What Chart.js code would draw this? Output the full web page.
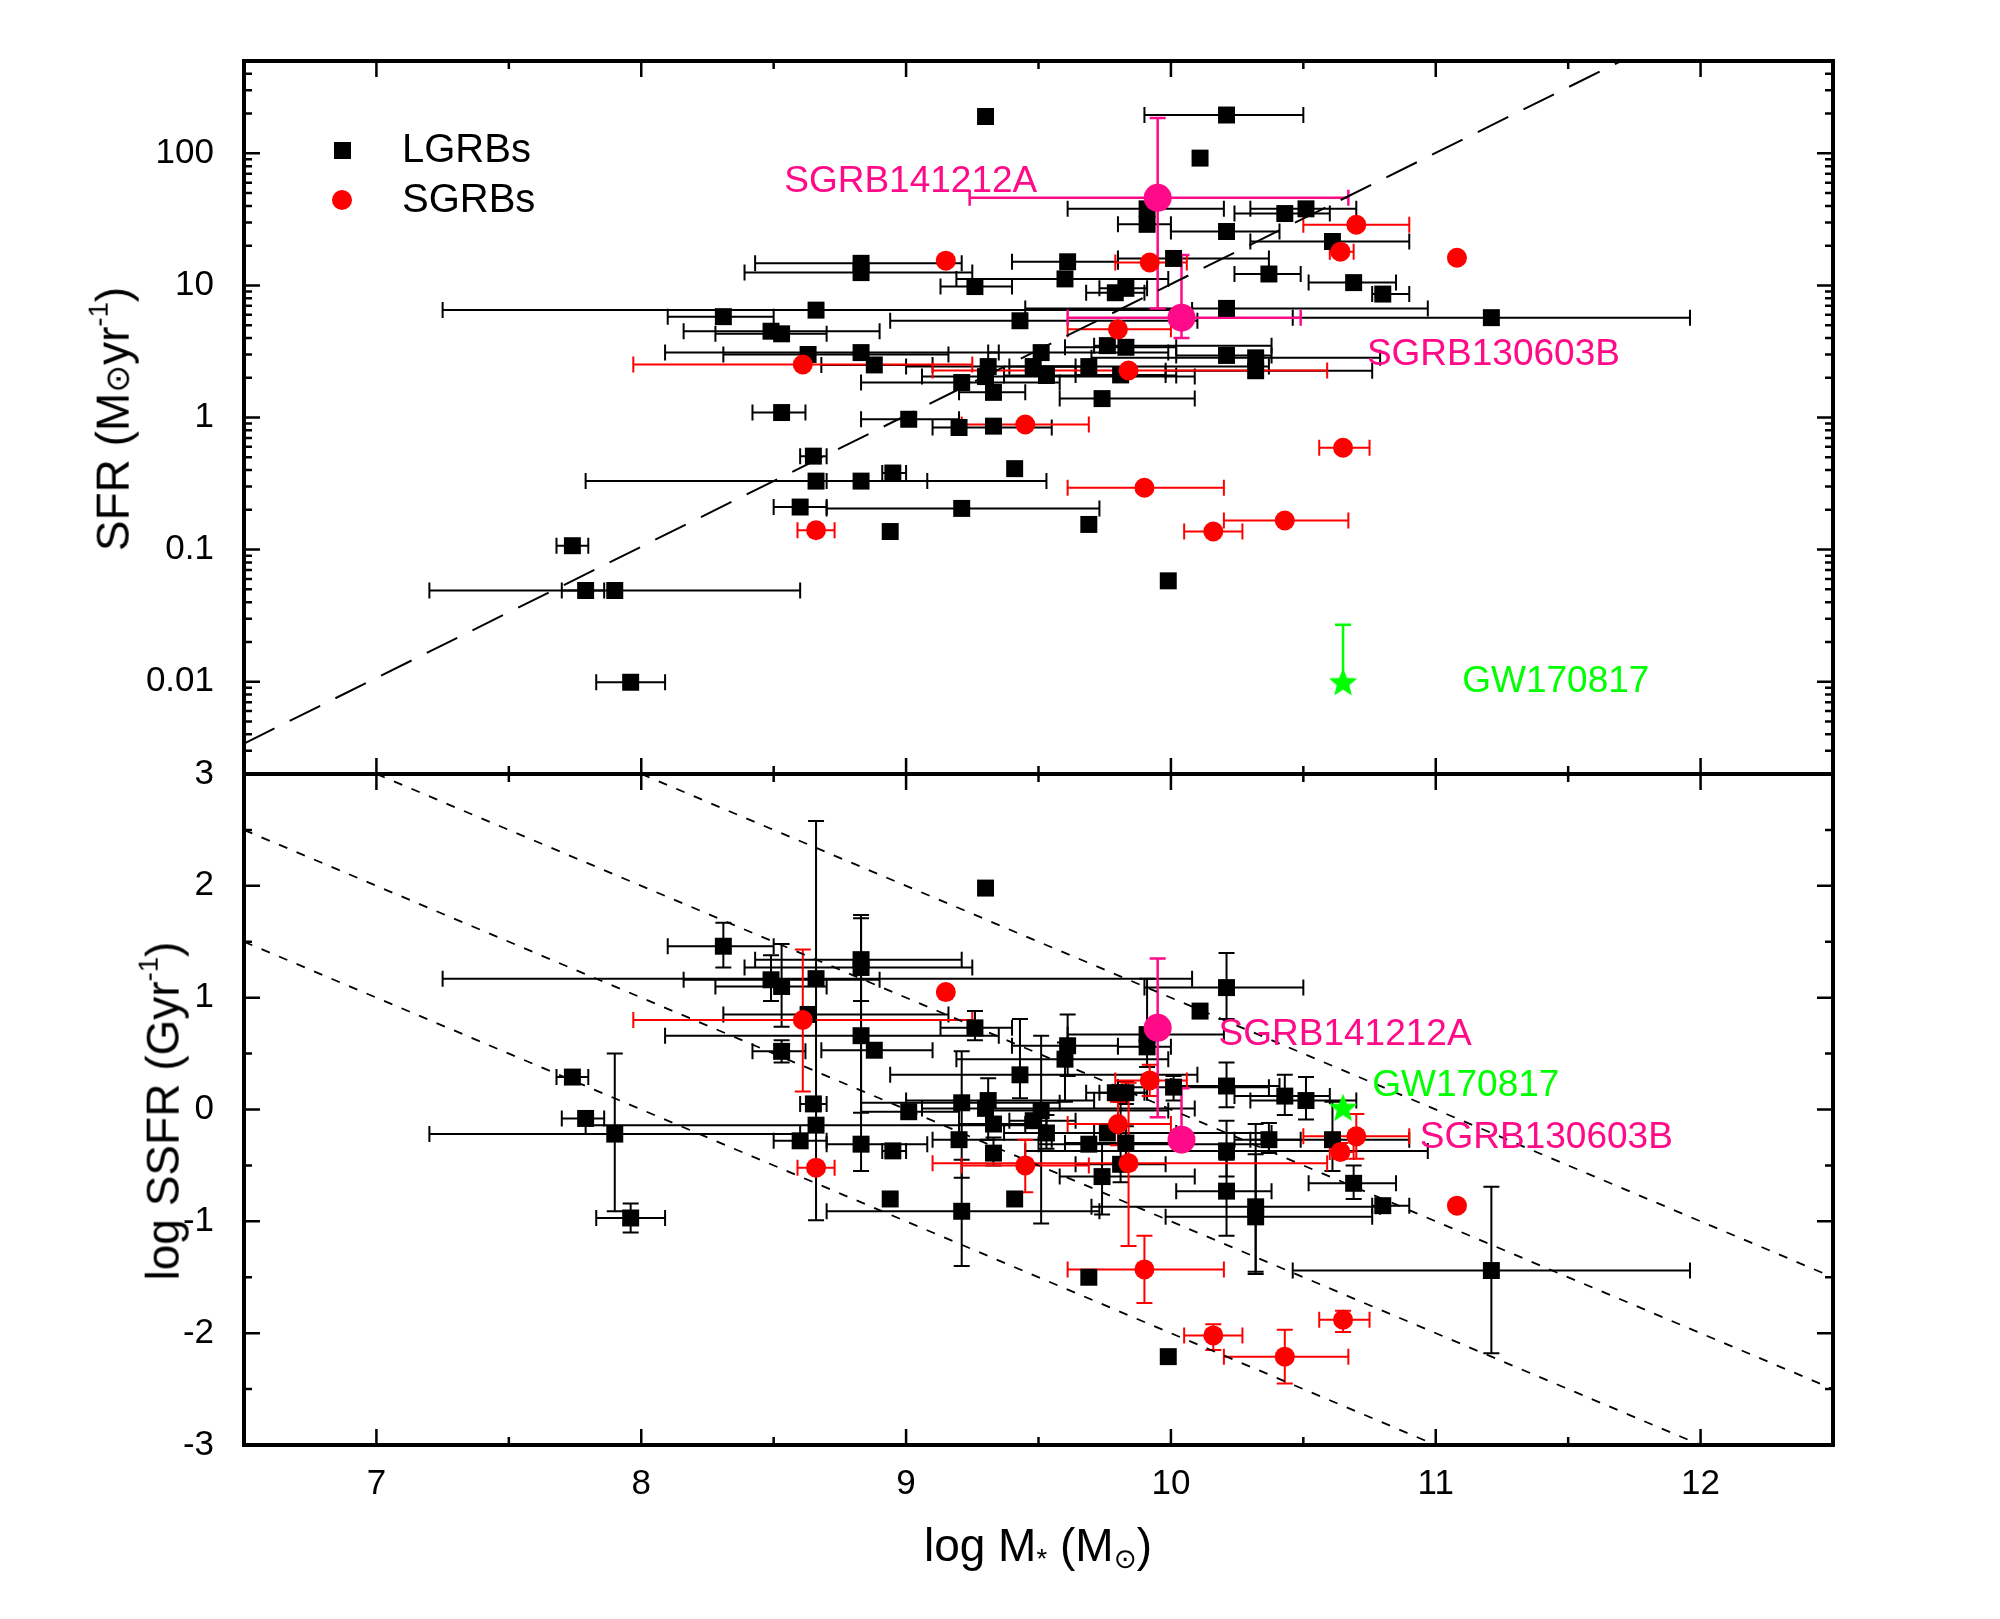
<!DOCTYPE html>
<html>
<head>
<meta charset="utf-8">
<script src="https://cdn.jsdelivr.net/npm/chart.js@4.4.1/dist/chart.umd.min.js"></script>
<style>
  html, body { margin: 0; padding: 0; background: #fff; }
  #wrap { position: relative; width: 2000px; height: 1619px; background: #fff; overflow: hidden;
          font-family: "Liberation Sans", "DejaVu Sans", Arial, sans-serif; }
  canvas { position: absolute; left: 0; }
  #topChart { top: 0; }
  #botChart { top: 700px; }
  .title { position: absolute; font-size: 46px; color: #000; white-space: nowrap; line-height: 1; }
  .ytitle { transform: translate(-50%, -50%) rotate(-90deg); }
  .xtitle { transform: translate(-50%, -50%); }
  .title sup { font-size: 0.6em; vertical-align: 0.75em; }
  .title sub { font-size: 0.6em; vertical-align: -0.25em; }
  .sun { font-family: "DejaVu Sans", sans-serif; font-size: 0.72em; }
</style>
</head>
<body>
<div id="wrap">
  <canvas id="topChart" width="2000" height="820"></canvas>
  <canvas id="botChart" width="2000" height="919"></canvas>
  <div class="title ytitle" style="left:110px; top:419px;">SFR (M<span class="sun">⊙</span>yr<sup>-1</sup>)</div>
  <div class="title ytitle" style="left:160px; top:1111px;">log SSFR (Gyr<sup>-1</sup>)</div>
  <div class="title xtitle" style="left:1038px; top:1547px;">log M<sub>*</sub> (M<sub class="sun">⊙</sub>)</div>
</div>
<script>
// ---------- data ----------
// long GRB hosts
const lgrbLogM = [9.30, 10.21, 10.11, 9.91, 9.91, 10.43, 10.51, 10.21, 10.61, 8.83, 8.83, 9.61, 10.01, 9.60, 9.26, 9.79,
  9.83, 10.37, 10.69, 10.80, 8.31, 8.66, 10.21, 9.43, 11.21, 8.49, 8.53, 8.63, 8.83, 8.88, 9.21, 9.31, 9.30, 9.33, 9.51,
  9.48, 9.53, 9.69, 9.76, 9.83, 9.81, 9.74, 10.21, 10.32, 10.32, 9.01, 9.20, 9.33, 8.53, 8.65, 8.66, 8.83, 8.95, 9.41,
  8.60, 9.21, 8.94, 9.69, 9.99, 7.74, 7.79, 7.90, 7.96];
const lgrbLogMLo = [null, 9.90, null, 9.61, 9.80, 10.24, 10.30, 10.00, 10.30, 8.43, 8.39, 9.40, 9.80, 9.19, 9.13, 9.68,
  9.73, 10.24, 10.52, 10.76, 8.10, 7.25, 9.45, 8.94, 10.46, 8.16, 8.28, 8.31, 8.09, 8.68, 8.83, 9.00, 9.06, 9.20, 9.31,
  9.39, 9.37, 9.50, 9.71, 9.60, 9.64, 9.58, 10.02, 9.70, 9.98, 8.83, 9.10, null, 8.42, 8.60, 7.79, 8.70, 8.91, null,
  8.50, 8.70, null, null, null, 7.68, 7.70, 7.20, 7.83];
const lgrbLogMHi = [null, 10.50, null, 10.20, 10.00, 10.60, 10.70, 10.41, 10.90, 9.21, 9.25, 9.80, 10.37, 9.99, 9.40, 9.90,
  9.91, 10.49, 10.85, 10.90, 8.50, 10.08, 10.97, 10.10, 11.96, 8.90, 8.70, 9.16, 9.35, 9.10, 9.58, 9.71, 10.09, 9.45, 9.99,
  9.64, 10.02, 10.37, 10.38, 10.02, 9.98, 10.09, 10.38, 10.79, 10.76, 9.20, 9.55, null, 8.62, 8.70, 9.53, 9.08, 9.00, null,
  8.70, 9.73, null, null, null, 7.80, 7.86, 8.60, 8.09];
const lgrbSFR = [190, 195, 92, 38, 29, 35, 38, 25.6, 21.5, 14.7, 12.5, 15.1, 16, 11.2, 9.8, 8.8, 9.5, 12.2, 10.5, 8.6,
  5.8, 6.5, 6.7, 5.4, 5.7, 4.5, 4.3, 3.0, 3.1, 2.5, 1.84, 2.43, 2.04, 1.55, 3.1, 2.43, 2.08, 2.43, 3.5, 3.4, 2.1, 1.39,
  2.95, 2.83, 2.26, 0.97, 0.84, 0.86, 1.09, 0.51, 0.33, 0.33, 0.38, 0.41, 0.21, 0.205, 0.137, 0.155, 0.058, 0.107,
  0.049, 0.049, 0.0099];
const lgrbSSFR = [1.98, 1.09, 0.88, 0.67, 0.56, 0.12, 0.08, 0.21, -0.27, 1.34, 1.27, 0.57, 0.20, 0.45, 0.73, 0.15, 0.15,
  -0.27, -0.66, -0.86, 1.46, 1.17, -0.37, 0.31, -1.44, 1.16, 1.10, 0.85, 0.66, 0.53, 0.06, 0.08, 0.01, -0.13, -0.01,
  -0.10, -0.21, -0.31, -0.21, -0.30, -0.49, -0.60, -0.73, -0.87, -0.96, -0.02, -0.27, -0.39, 0.52, 0.05, -0.14, -0.31,
  -0.37, -0.80, -0.28, -0.91, -0.80, -1.50, -2.21, 0.29, -0.08, -0.22, -0.97];
const lgrbSSFRLo = [null, 0.81, null, 0.38, null, -0.05, -0.09, 0.02, -0.55, 0.97, -0.55, 0.30, 0.08, 0.07, 0.62, null,
  0.05, -0.39, -0.80, null, 1.27, -0.99, -0.60, 0.10, -2.18, 0.97, 0.74, null, -0.03, null, -0.61, -0.27, null, null,
  -1.02, null, -0.35, null, null, -0.45, -0.65, -0.94, -1.13, -1.47, -1.45, null, null, -0.50, 0.42, null, null, null,
  -0.42, null, null, -1.40, null, null, null, null, null, -0.91, -1.10];
const lgrbSSFRHi = [null, 1.40, null, 1.17, null, 0.31, 0.29, 0.42, 0.07, 1.74, 1.71, 0.85, 0.30, 0.60, 0.88, null,
  0.25, -0.12, -0.50, null, 1.67, 2.58, -0.10, 0.81, -0.69, 1.38, 1.48, null, 0.97, null, 0.52, 0.28, null, null,
  0.66, null, -0.05, null, null, -0.15, 0.07, -0.30, -0.45, -0.13, -0.40, null, null, -0.25, 0.62, null, null, null,
  -0.32, null, null, -0.45, null, null, null, null, null, 0.50, -0.84];

// short GRB hosts
const sgrbLogM = [9.15, 9.92, 8.61, 9.84, 9.80, 9.45, 9.90, 8.66, 10.70, 10.64, 11.08, 10.65, 10.43, 10.16];
const sgrbLogMLo = [null, 9.79, 7.97, 9.10, 9.61, 9.21, 9.61, 8.59, 10.50, 10.60, null, 10.56, 10.20, 10.05];
const sgrbLogMHi = [null, 10.06, 9.25, 10.59, 10.00, 9.69, 10.20, 8.73, 10.90, 10.69, null, 10.75, 10.67, 10.27];
const sgrbSFR = [15.4, 14.9, 2.52, 2.27, 4.65, 0.885, 0.294, 0.14, 28.8, 18, 16.2, 0.59, 0.166, 0.137];
const sgrbSSFR = [1.05, 0.26, 0.80, -0.48, -0.13, -0.50, -1.43, -0.52, -0.24, -0.38, -0.86, -1.88, -2.21, -2.02];
const sgrbSSFRLo = [null, 0.12, 0.16, -1.22, -0.32, -0.74, -1.73, null, -0.44, -0.44, null, -1.99, -2.45, -2.15];
const sgrbSSFRHi = [null, 0.40, 1.43, 0.24, 0.07, -0.27, -1.13, null, -0.04, -0.30, null, -1.80, -1.97, -1.92];

// the two labelled short bursts
const namedNames = ['SGRB141212A', 'SGRB130603B'];
const namedLogM = [9.95, 10.04];
const namedLogMLo = [9.24, 9.61];
const namedLogMHi = [10.67, 10.49];
const namedSFR = [46, 5.7];
const namedSFRLo = [6.7, 4.0];
const namedSFRHi = [185, 17];
const namedSSFR = [0.73, -0.27];
const namedSSFRLo = [-0.07, -0.35];
const namedSSFRHi = [1.35, 0.19];

// GW170817 host
const gwLogM = [10.65];
const gwSFR = [0.01];
const gwSFRHi = [0.027];
const gwSSFR = [0.02];

// reference lines
const sfrLineLogM = [6.5, 11.7];
const sfrLineSFR = [0.0034, 500];
const ssfrLinesLogM = [[8.0, 12.5], [7.0, 12.5], [6.5, 12.0], [6.5, 11.0]];
const ssfrLinesSSFR = [[3, -1.5], [3, -2.5], [2.5, -3], [1.5, -3]];

// ticks
const xTicks = [7, 8, 9, 10, 11, 12];
const xMinorTicks = [7.5, 8.5, 9.5, 10.5, 11.5];
const sfrTicks = [0.01, 0.1, 1, 10, 100];
const ssfrTicks = [-3, -2, -1, 0, 1, 2, 3];
const ssfrMinorTicks = [-2.5, -1.5, -0.5, 0.5, 1.5, 2.5];

// ---------- styling ----------
const FONT = '"Liberation Sans", "DejaVu Sans", Arial, sans-serif';
const RED = '#ff0000';
const PINK = '#ff0a88';
const GREEN = '#00ff00';
const CAP = 8;

const pts = (xs, ys) => xs.map((x, i) => ({ x: x, y: ys[i] }));
const nulls = n => new Array(n).fill(null);

function starImage(size, color) {
  const c = document.createElement('canvas');
  c.width = size; c.height = size;
  const g = c.getContext('2d');
  g.fillStyle = color;
  g.beginPath();
  for (let i = 0; i < 10; i++) {
    const r = i % 2 ? size * 0.22 : size * 0.5;
    const a = -Math.PI / 2 + i * Math.PI / 5;
    g.lineTo(size / 2 + r * Math.cos(a), size / 2 + 1.5 + r * Math.sin(a));
  }
  g.closePath();
  g.fill();
  return c;
}
const star = starImage(30, GREEN);

// error bars, drawn under the markers
function errorBars(groups) {
  return {
    id: 'errorBars',
    beforeDatasetsDraw(chart) {
      const { ctx, chartArea: a } = chart;
      const xs = chart.scales.x, ys = chart.scales.y;
      ctx.save();
      ctx.beginPath();
      ctx.rect(a.left, a.top, a.right - a.left, a.bottom - a.top);
      ctx.clip();
      groups.forEach(g => {
        ctx.strokeStyle = g.color;
        ctx.lineWidth = g.width;
        g.x.forEach((xv, i) => {
          const px = xs.getPixelForValue(xv);
          const py = ys.getPixelForValue(g.y[i]);
          ctx.beginPath();
          if (g.xlo && g.xlo[i] != null) {
            const l = xs.getPixelForValue(g.xlo[i]);
            const r = xs.getPixelForValue(g.xhi[i]);
            ctx.moveTo(l, py); ctx.lineTo(r, py);
            ctx.moveTo(l, py - CAP); ctx.lineTo(l, py + CAP);
            ctx.moveTo(r, py - CAP); ctx.lineTo(r, py + CAP);
          }
          if (g.ylo && (g.ylo[i] != null || g.yhi[i] != null)) {
            const lo = g.ylo[i] != null ? g.ylo[i] : g.y[i];
            const hi = g.yhi[i] != null ? g.yhi[i] : g.y[i];
            const t = ys.getPixelForValue(hi);
            const b = ys.getPixelForValue(lo);
            ctx.moveTo(px, t); ctx.lineTo(px, b);
            if (g.yhi[i] != null) { ctx.moveTo(px - CAP, t); ctx.lineTo(px + CAP, t); }
            if (g.ylo[i] != null) { ctx.moveTo(px - CAP, b); ctx.lineTo(px + CAP, b); }
          }
          ctx.stroke();
        });
      });
      ctx.restore();
    }
  };
}

// frame with inward ticks on all four sides
function frame(yMajor, yMinor) {
  return {
    id: 'frame',
    afterDraw(chart) {
      const { ctx, chartArea: a } = chart;
      const xs = chart.scales.x, ys = chart.scales.y;
      ctx.save();
      ctx.strokeStyle = '#000';
      ctx.lineWidth = 2.5;
      ctx.beginPath();
      const xt = (v, len) => {
        const p = xs.getPixelForValue(v);
        ctx.moveTo(p, a.bottom); ctx.lineTo(p, a.bottom - len);
        ctx.moveTo(p, a.top); ctx.lineTo(p, a.top + len);
      };
      const yt = (v, len) => {
        const p = ys.getPixelForValue(v);
        if (p < a.top + 1 || p > a.bottom - 1) return;
        ctx.moveTo(a.left, p); ctx.lineTo(a.left + len, p);
        ctx.moveTo(a.right, p); ctx.lineTo(a.right - len, p);
      };
      xTicks.forEach(v => xt(v, 16));
      xMinorTicks.forEach(v => xt(v, 8));
      yMajor.forEach(v => yt(v, 16));
      yMinor.forEach(v => yt(v, 8));
      ctx.stroke();
      ctx.lineWidth = 4;
      ctx.strokeRect(a.left, a.top, a.right - a.left, a.bottom - a.top);
      ctx.restore();
    }
  };
}

function labels(list) {
  return {
    id: 'labels',
    afterDatasetsDraw(chart) {
      const ctx = chart.ctx;
      ctx.save();
      ctx.font = '37px ' + FONT;
      ctx.textAlign = 'left';
      ctx.textBaseline = 'middle';
      list.forEach(l => {
        ctx.fillStyle = l.color;
        ctx.fillText(l.text, chart.scales.x.getPixelForValue(l.x), chart.scales.y.getPixelForValue(l.y));
      });
      ctx.restore();
    }
  };
}

const legendBox = {
  id: 'legendBox',
  afterDraw(chart) {
    const ctx = chart.ctx;
    ctx.save();
    ctx.fillStyle = '#000';
    ctx.fillRect(334, 142, 17, 17);
    ctx.fillStyle = RED;
    ctx.beginPath();
    ctx.arc(342, 200, 10, 0, Math.PI * 2);
    ctx.fill();
    ctx.fillStyle = '#000';
    ctx.font = '40px ' + FONT;
    ctx.textAlign = 'left';
    ctx.textBaseline = 'middle';
    ctx.fillText('LGRBs', 402, 151);
    ctx.fillText('SGRBs', 402, 201);
    ctx.restore();
  }
};

// minor ticks for the log axis (2..9 in every decade)
const sfrMinor = [];
[0.001, 0.01, 0.1, 1, 10, 100].forEach(d => { for (let k = 2; k <= 9; k++) sfrMinor.push(d * k); });

const tickFont = { family: FONT, size: 35 };

const common = {
  responsive: false,
  animation: false,
  devicePixelRatio: 1,
  events: [],
  plugins: { legend: { display: false }, tooltip: { enabled: false } }
};

// ---------- top panel: SFR ----------
new Chart(document.getElementById('topChart'), {
  type: 'scatter',
  data: {
    datasets: [
      { label: 'GW170817', data: pts(gwLogM, gwSFR), pointStyle: star, pointRadius: 14, order: 0 },
      { label: 'named SGRBs', data: pts(namedLogM, namedSFR), pointStyle: 'circle', pointRadius: 14,
        backgroundColor: PINK, borderColor: PINK, pointBorderWidth: 0, order: 1 },
      { label: 'SGRBs', data: pts(sgrbLogM, sgrbSFR), pointStyle: 'circle', pointRadius: 10,
        backgroundColor: RED, borderColor: RED, pointBorderWidth: 0, order: 2 },
      { label: 'LGRBs', data: pts(lgrbLogM, lgrbSFR), pointStyle: 'rect', pointRadius: 12,
        backgroundColor: '#000', borderColor: '#000', pointBorderWidth: 0, order: 3 },
      { label: 'sSFR = 1/Gyr', data: pts(sfrLineLogM, sfrLineSFR), showLine: true, borderColor: '#000',
        borderWidth: 2, borderDash: [34, 17], pointRadius: 0, order: 4 }
    ]
  },
  options: Object.assign({}, common, {
    layout: { padding: { left: 0, right: 167, top: 61, bottom: 46 } },
    scales: {
      x: { type: 'linear', min: 6.5, max: 12.5, display: false },
      y: {
        type: 'logarithmic', min: 0.002, max: 500, position: 'left',
        grid: { display: false }, border: { display: false },
        afterFit: s => { s.width = 244; },
        afterBuildTicks: s => { s.ticks = sfrTicks.map(v => ({ value: v })); },
        ticks: { callback: v => String(v), font: tickFont, color: '#000', padding: 22 }
      }
    }
  }),
  plugins: [
    errorBars([
      { x: lgrbLogM, y: lgrbSFR, xlo: lgrbLogMLo, xhi: lgrbLogMHi, color: '#000', width: 2 },
      { x: sgrbLogM, y: sgrbSFR, xlo: sgrbLogMLo, xhi: sgrbLogMHi, color: RED, width: 2 },
      { x: namedLogM, y: namedSFR, xlo: namedLogMLo, xhi: namedLogMHi, ylo: namedSFRLo, yhi: namedSFRHi, color: PINK, width: 2.5 },
      { x: gwLogM, y: gwSFR, ylo: nulls(1), yhi: gwSFRHi, color: GREEN, width: 2.5 }
    ]),
    labels([
      { text: 'SGRB141212A', x: 8.54, y: 61, color: PINK },
      { text: 'SGRB130603B', x: 10.74, y: 3.0, color: PINK },
      { text: 'GW170817', x: 11.10, y: 0.01, color: GREEN }
    ]),
    frame(sfrTicks, sfrMinor),
    legendBox
  ]
});

// ---------- bottom panel: specific SFR ----------
const lineSets = ssfrLinesLogM.map((xs, i) => ({
  label: 'constant SFR ' + i, data: pts(xs, ssfrLinesSSFR[i]), showLine: true, borderColor: '#000',
  borderWidth: 1.8, borderDash: [9, 10], pointRadius: 0, order: 4
}));

new Chart(document.getElementById('botChart'), {
  type: 'scatter',
  data: {
    datasets: [
      { label: 'GW170817', data: pts(gwLogM, gwSSFR), pointStyle: star, pointRadius: 14, order: 0 },
      { label: 'named SGRBs', data: pts(namedLogM, namedSSFR), pointStyle: 'circle', pointRadius: 14,
        backgroundColor: PINK, borderColor: PINK, pointBorderWidth: 0, order: 1 },
      { label: 'SGRBs', data: pts(sgrbLogM, sgrbSSFR), pointStyle: 'circle', pointRadius: 10,
        backgroundColor: RED, borderColor: RED, pointBorderWidth: 0, order: 2 },
      { label: 'LGRBs', data: pts(lgrbLogM, lgrbSSFR), pointStyle: 'rect', pointRadius: 12,
        backgroundColor: '#000', borderColor: '#000', pointBorderWidth: 0, order: 3 }
    ].concat(lineSets)
  },
  options: Object.assign({}, common, {
    layout: { padding: { left: 0, right: 167, top: 74, bottom: 0 } },
    scales: {
      x: {
        type: 'linear', min: 6.5, max: 12.5, position: 'bottom',
        grid: { display: false }, border: { display: false },
        afterFit: s => { s.height = 174; },
        afterBuildTicks: s => { s.ticks = xTicks.map(v => ({ value: v })); },
        ticks: { callback: v => String(v), font: tickFont, color: '#000', padding: 10 }
      },
      y: {
        type: 'linear', min: -3, max: 3, position: 'left',
        grid: { display: false }, border: { display: false },
        afterFit: s => { s.width = 244; },
        afterBuildTicks: s => { s.ticks = ssfrTicks.map(v => ({ value: v })); },
        ticks: { callback: v => String(v), font: tickFont, color: '#000', padding: 22 }
      }
    }
  }),
  plugins: [
    errorBars([
      { x: lgrbLogM, y: lgrbSSFR, xlo: lgrbLogMLo, xhi: lgrbLogMHi, ylo: lgrbSSFRLo, yhi: lgrbSSFRHi, color: '#000', width: 2 },
      { x: sgrbLogM, y: sgrbSSFR, xlo: sgrbLogMLo, xhi: sgrbLogMHi, ylo: sgrbSSFRLo, yhi: sgrbSSFRHi, color: RED, width: 2 },
      { x: namedLogM, y: namedSSFR, ylo: namedSSFRLo, yhi: namedSSFRHi, color: PINK, width: 2.5 }
    ]),
    labels([
      { text: 'SGRB141212A', x: 10.18, y: 0.67, color: PINK },
      { text: 'GW170817', x: 10.76, y: 0.21, color: GREEN },
      { text: 'SGRB130603B', x: 10.94, y: -0.25, color: PINK }
    ]),
    frame(ssfrTicks, ssfrMinorTicks)
  ]
});
</script>
</body>
</html>
